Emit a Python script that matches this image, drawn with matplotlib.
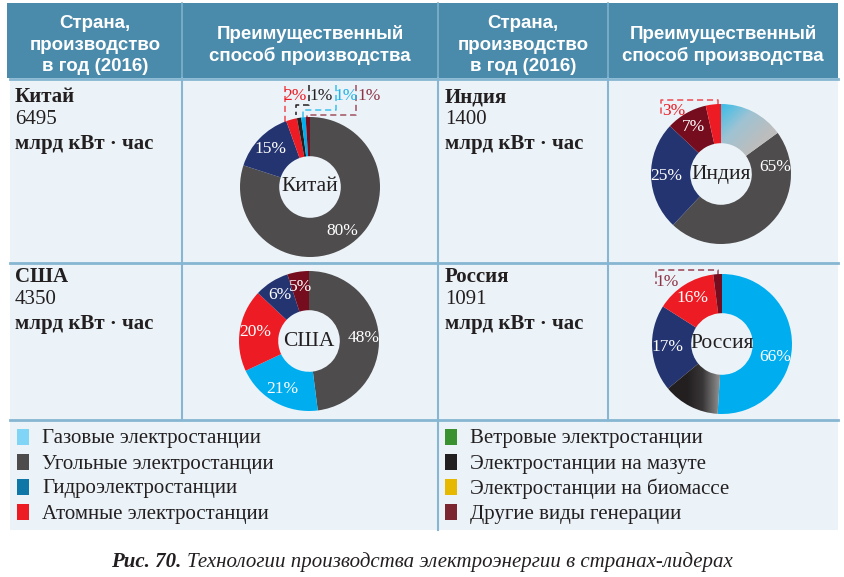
import numpy as np
import matplotlib.pyplot as plt
from matplotlib.patches import Rectangle
from matplotlib.colors import LinearSegmentedColormap

# --- данные ---
countries = ["Китай", "Индия", "США", "Россия"]
production = [6495, 1400, 4350, 1091]
unit = "млрд кВт · час"

# доли секторов в том виде, как они нарисованы (по часовой, от 12 часов)
china_kinds = ["coal", "hydro", "atom", "mazut", "gas", "other"]
china_sizes = [80, 14.5, 2.5, 1, 1, 1]
china_labels = ["80%", "15%", "2%", "1%", "1%", "1%"]

india_kinds = ["gas_grad", "coal", "hydro", "other", "atom"]
india_sizes = [15, 47, 25, 9.5, 3.5]
india_labels = ["", "65%", "25%", "7%", "3%"]

usa_kinds = ["coal", "gas", "atom", "hydro", "other"]
usa_sizes = [48, 20, 19, 8, 5]
usa_labels = ["48%", "21%", "20%", "6%", "5%"]

russia_kinds = ["gas", "mazut_grad", "hydro", "atom", "other"]
russia_sizes = [51, 13, 20, 14, 2]
russia_labels = ["66%", "", "17%", "16%", "1%"]

legend_left = ["Газовые электростанции", "Угольные электростанции",
               "Гидроэлектростанции", "Атомные электростанции"]
legend_right = ["Ветровые электростанции", "Электростанции на мазуте",
                "Электростанции на биомассе", "Другие виды генерации"]
legend_left_colors = ["#80d4f6", "#4d4b4c", "#0f77a8", "#ed1c24"]
legend_right_colors = ["#3a9130", "#231f20", "#e6b800", "#7b2531"]

header_left = "Страна,\nпроизводство\nв год (2016)"
header_right = "Преимущественный\nспособ производства"
caption_bold = "Рис. 70."
caption_rest = "Технологии производства электроэнергии в странах-лидерах"

# --- оформление ---
W, H = 845, 577
HEAD_BG = "#4a8aab"
BODY_BG = "#ebf3f8"
GRID = "#86b6d1"
SERIF = ["Liberation Serif", "DejaVu Serif"]
NARROW = ["Liberation Sans Narrow", "Liberation Sans", "DejaVu Sans"]

WEDGE_COLORS = {
    "coal": "#4e4c4d", "hydro": "#243470", "atom": "#ed1c24",
    "mazut": "#231f20", "gas": "#00aeef", "other": "#750d1e",
    "gas_grad": "#00aeef", "mazut_grad": "#231f20",
}
R = 70          # радиус кольца, px
RING = 0.56     # ширина кольца (доля радиуса)
LBL_R = 0.78

# центры колец в пикселях
CENTERS = {"Китай": (310, 187), "Индия": (721, 174),
           "США": (309, 341), "Россия": (722, 344)}
TEXT_X = {"Китай": 15, "Индия": 445, "США": 15, "Россия": 445}
TEXT_Y = {"Китай": 97, "Индия": 97, "США": 277, "Россия": 277}
LABEL_ANGLE = {("Индия", 1): 83, ("Россия", 0): 104}

# подписи вне кольца: (x, y, цвет) в пикселях
OUTSIDE = {
    ("Китай", 2): (295, 96, "#ed1c24"),
    ("Китай", 3): (321, 96, "#231f20"),
    ("Китай", 4): (346, 96, "#1fb3ea"),
    ("Китай", 5): (369, 96, "#8e3446"),
    ("Индия", 4): (674, 111, "#ed1c24"),
    ("Россия", 4): (667, 282, "#8e3446"),
}
CALLOUTS = [
    ([285, 285], [86, 125], "#ee4a50"),
    ([309, 309, 296, 296], [85, 105, 105, 115], "#231f20"),
    ([336, 336, 303, 303], [85, 110, 110, 118], "#3cc0f0"),
    ([356, 356, 307, 307], [85, 115, 115, 118], "#a0505f"),
    ([718, 718, 661, 661], [105, 100, 100, 114], "#ee4a50"),
    ([718, 718, 656, 656], [276, 270, 270, 284], "#9a4050"),
]


def gradient_fill(ax, wedge, kind):
    xs = np.linspace(-1, 1, 300)
    gx, gy = np.meshgrid(xs, xs)
    if kind == "gas_grad":
        t = np.clip((gx + (1 - gy)) / 1.1, 0, 1)
        cmap = LinearSegmentedColormap.from_list("g", ["#38bde9", "#9fc3d3", "#bdbdbd"])
    else:
        t = np.clip((gx + 0.5) / 0.45, 0, 1)
        cmap = LinearSegmentedColormap.from_list("m", ["#231f20", "#3a3738", "#8a8a8a"])
    im = ax.imshow(t, extent=(-1, 1, -1, 1), origin="lower", cmap=cmap,
                   vmin=0, vmax=1, zorder=wedge.get_zorder() + 0.1)
    im.set_clip_path(wedge)
    wedge.set_facecolor("none")


def draw_donut(fig, name, kinds, sizes, labels):
    cx, cy = CENTERS[name]
    half = 1.3 * R
    ax = fig.add_axes([(cx - half) / W, 1 - (cy + half) / H, 2 * half / W, 2 * half / H])
    wedges, _ = ax.pie(sizes, colors=[WEDGE_COLORS[k] for k in kinds], startangle=90,
                       counterclock=False, radius=1,
                       wedgeprops=dict(width=RING, edgecolor="none", linewidth=0))
    for w, k in zip(wedges, kinds):
        if k.endswith("_grad"):
            gradient_fill(ax, w, k)

    total = float(sum(sizes))
    start = 0.0
    for i, (s, lab) in enumerate(zip(sizes, labels)):
        mid = (start + s / 2) / total * 360
        start += s
        if not lab or (name, i) in OUTSIDE:
            continue
        ang = np.deg2rad(LABEL_ANGLE.get((name, i), mid))
        ax.text(LBL_R * np.sin(ang), LBL_R * np.cos(ang), lab, ha="center", va="center",
                fontsize=12.5, color="white", family=SERIF, zorder=5)
    ax.text(0, 0, name, ha="center", va="center", fontsize=15.5, color="#231f20",
            family=SERIF, zorder=5)
    ax.set_xlim(-1.3, 1.3)
    ax.set_ylim(-1.3, 1.3)
    ax.set_aspect("equal")
    ax.axis("off")


fig = plt.figure(figsize=(W / 100, H / 100), dpi=100)
base = fig.add_axes([0, 0, 1, 1])
base.set_xlim(0, W)
base.set_ylim(H, 0)
base.axis("off")

# таблица: шапка, тело, легенда
base.add_patch(Rectangle((7, 3), 831, 75, color=HEAD_BG, lw=0))
base.add_patch(Rectangle((10, 78), 828, 452, color=BODY_BG, lw=0))
for x in (182, 438, 608):
    base.plot([x, x], [3, 78], color="#7fb1cc", lw=1.2)
    base.plot([x, x], [78, 420], color=GRID, lw=1.5)
base.plot([438, 438], [420, 530], color=GRID, lw=1.5)
for y in (79, 263, 420):
    base.plot([10, 838], [y, y], color=GRID, lw=2)

for cx in (95, 523):
    base.text(cx, 45, header_left, ha="center", va="center", color="white",
              fontsize=13.5, fontweight="bold", family=NARROW, linespacing=1.35)
for cx in (310, 723):
    base.text(cx, 45, header_right, ha="center", va="center", color="white",
              fontsize=13.5, fontweight="bold", family=NARROW, linespacing=1.35)

# текст в ячейках
for name, val in zip(countries, production):
    x, y = TEXT_X[name], TEXT_Y[name]
    base.text(x, y, name, ha="left", va="center", fontsize=15, fontweight="bold",
              family=SERIF, color="#231f20")
    base.text(x, y + 23, str(val), ha="left", va="center", fontsize=15,
              family=SERIF, color="#231f20")
    base.text(x, y + 47, unit, ha="left", va="center", fontsize=15, fontweight="bold",
              family=SERIF, color="#231f20")

# кольцевые диаграммы
draw_donut(fig, "Китай", china_kinds, china_sizes, china_labels)
draw_donut(fig, "Индия", india_kinds, india_sizes, india_labels)
draw_donut(fig, "США", usa_kinds, usa_sizes, usa_labels)
draw_donut(fig, "Россия", russia_kinds, russia_sizes, russia_labels)

# выноски
all_labels = {"Китай": china_labels, "Индия": india_labels,
              "США": usa_labels, "Россия": russia_labels}
for (name, i), (x, y, c) in OUTSIDE.items():
    base.text(x, y, all_labels[name][i], ha="center", va="center", fontsize=12.5,
              color=c, family=SERIF)
for xs, ys, c in CALLOUTS:
    base.plot(xs, ys, color=c, lw=1.1, ls=(0, (4, 2.5)))

# легенда
for j, (names, cols, x0) in enumerate([(legend_left, legend_left_colors, 17),
                                      (legend_right, legend_right_colors, 445)]):
    for k, (nm, c) in enumerate(zip(names, cols)):
        y = 437 + 25 * k
        base.add_patch(Rectangle((x0, y - 8), 12, 16, color=c, lw=0))
        base.text(x0 + 25, y + 2, nm, ha="left", va="center", fontsize=15,
                  family=SERIF, color="#231f20")

# подпись
base.text(181, 562, caption_bold, ha="right", va="center", fontsize=15,
          fontweight="bold", style="italic", family=SERIF, color="#231f20")
base.text(187, 562, caption_rest, ha="left", va="center", fontsize=15,
          style="italic", family=SERIF, color="#231f20")

fig.savefig("out.png", dpi=100)
